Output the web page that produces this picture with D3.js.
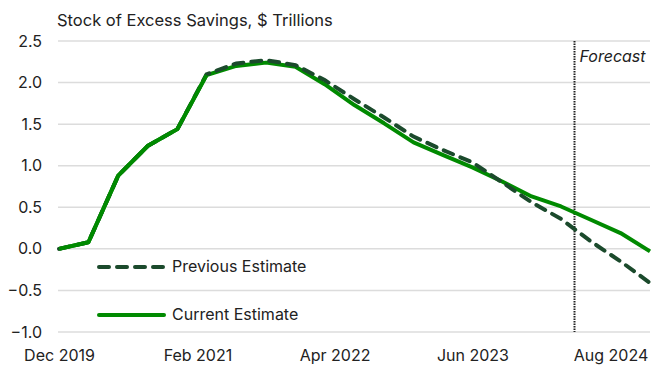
<!DOCTYPE html>
<html>
<head>
<meta charset="utf-8">
<script src="https://cdn.jsdelivr.net/npm/d3@7"></script>
<style>
  body { margin: 0; background: #fff; }
  text { font-family: Inter, "Noto Sans", sans-serif; fill: #222; }
</style>
</head>
<body>
<div class="chart-container"></div>
<script>
var width = 664;
var height = 367;

// Quarterly data, Dec 2019 - Dec 2024 ($ trillions)
var quarters = ['2019-12', '2020-03', '2020-06', '2020-09', '2020-12', '2021-03', '2021-06',
  '2021-09', '2021-12', '2022-03', '2022-06', '2022-09', '2022-12', '2023-03', '2023-06',
  '2023-09', '2023-12', '2024-03', '2024-06', '2024-09', '2024-12'];
var currentEstimate = [0.00, 0.08, 0.88, 1.24, 1.44, 2.09, 2.20, 2.24, 2.19, 1.98, 1.73,
  1.51, 1.28, 1.13, 0.98, 0.81, 0.63, 0.51, 0.35, 0.19, -0.03];
var previousEstimate = [0.00, 0.08, 0.88, 1.24, 1.44, 2.10, 2.23, 2.27, 2.21, 2.03, 1.80,
  1.58, 1.35, 1.19, 1.04, 0.80, 0.56, 0.36, 0.09, -0.15, -0.41];
var xTickLabels = ['Dec 2019', 'Feb 2021', 'Apr 2022', 'Jun 2023', 'Aug 2024'];
var yTicks = [-1.0, -0.5, 0.0, 0.5, 1.0, 1.5, 2.0, 2.5];
var forecastStart = '2024-04-10';

var parseMonth = d3.timeParse('%Y-%m');
var dates = quarters.map(function (q) { return parseMonth(q); });
var tickDates = xTickLabels.map(function (t) { return d3.timeParse('%b %Y')(t); });

var margin = { left: 59, right: 14, top: 41, bottom: 35 };

var svg = d3.select('.chart-container')
  .append('svg')
  .attr('width', width)
  .attr('height', height);

var xScale = d3.scaleTime()
  .domain([dates[0], dates[dates.length - 1]])
  .range([margin.left, width - margin.right]);

var yScale = d3.scaleLinear()
  .domain([-1, 2.5])
  .range([height - margin.bottom, margin.top]);

// Gridlines
svg.append('g')
  .selectAll('line')
  .data(yTicks)
  .enter()
  .append('line')
  .attr('x1', margin.left - 1)
  .attr('x2', width - margin.right)
  .attr('y1', function (d) { return yScale(d); })
  .attr('y2', function (d) { return yScale(d); })
  .style('stroke', '#dcdcdc')
  .style('stroke-width', 1.5);

// Y axis labels
var yAxis = d3.axisLeft(yScale)
  .tickValues(yTicks)
  .tickFormat(d3.format('.1f'))
  .tickSize(0)
  .tickPadding(0);

svg.append('g')
  .attr('transform', 'translate(42, 0)')
  .call(yAxis)
  .call(function (g) { g.select('.domain').remove(); })
  .selectAll('text')
  .style('font-size', '16px')
  .style('fill', '#222');

// X axis labels
var xAxis = d3.axisBottom(xScale)
  .tickValues(tickDates)
  .tickFormat(d3.timeFormat('%b %Y'))
  .tickSize(0)
  .tickPadding(0);

svg.append('g')
  .attr('transform', 'translate(0, 350)')
  .call(xAxis)
  .call(function (g) { g.select('.domain').remove(); })
  .selectAll('text')
  .style('font-size', '16px')
  .style('fill', '#222');

// Forecast marker
var fx = Math.round(xScale(new Date(forecastStart))) + 0.5;
svg.append('line')
  .attr('x1', fx)
  .attr('x2', fx)
  .attr('y1', yScale(2.5))
  .attr('y2', yScale(-1))
  .style('stroke', '#222')
  .style('stroke-width', 2)
  .style('stroke-dasharray', '1.5,1');

svg.append('text')
  .attr('x', fx + 5)
  .attr('y', 62)
  .style('font-size', '16px')
  .style('font-style', 'italic')
  .text('Forecast');

// Title
svg.append('text')
  .attr('x', 57)
  .attr('y', 26)
  .style('font-size', '16.5px')
  .text('Stock of Excess Savings, $ Trillions');

var line = d3.line()
  .x(function (d, i) { return xScale(dates[i]); })
  .y(function (d) { return yScale(d); });

var prevColor = '#1b4a2c';
var currColor = '#008a00';

svg.append('path')
  .datum(currentEstimate)
  .attr('d', line)
  .style('fill', 'none')
  .style('stroke', currColor)
  .style('stroke-width', 4)
  .style('stroke-linejoin', 'round');

svg.append('path')
  .datum(previousEstimate)
  .attr('d', line)
  .style('fill', 'none')
  .style('stroke', prevColor)
  .style('stroke-width', 4)
  .style('stroke-linecap', 'round')
  .style('stroke-dasharray', '10,8');

// Draw current again on the early part so it sits on top where lines overlap
svg.append('path')
  .datum(currentEstimate.slice(0, 6))
  .attr('d', line)
  .style('fill', 'none')
  .style('stroke', currColor)
  .style('stroke-width', 4)
  .style('stroke-linejoin', 'round');

// Legend
var legend = [
  { name: 'Previous Estimate', color: prevColor, dash: '10,8', y: 267 },
  { name: 'Current Estimate', color: currColor, dash: null, y: 315 }
];

legend.forEach(function (item) {
  svg.append('line')
    .attr('x1', 99)
    .attr('x2', 164)
    .attr('y1', item.y)
    .attr('y2', item.y)
    .style('stroke', item.color)
    .style('stroke-width', 4)
    .style('stroke-linecap', 'round')
    .style('stroke-dasharray', item.dash);

  svg.append('text')
    .attr('x', 172)
    .attr('y', item.y + 5)
    .style('font-size', '16px')
    .text(item.name);
});
</script>
</body>
</html>
